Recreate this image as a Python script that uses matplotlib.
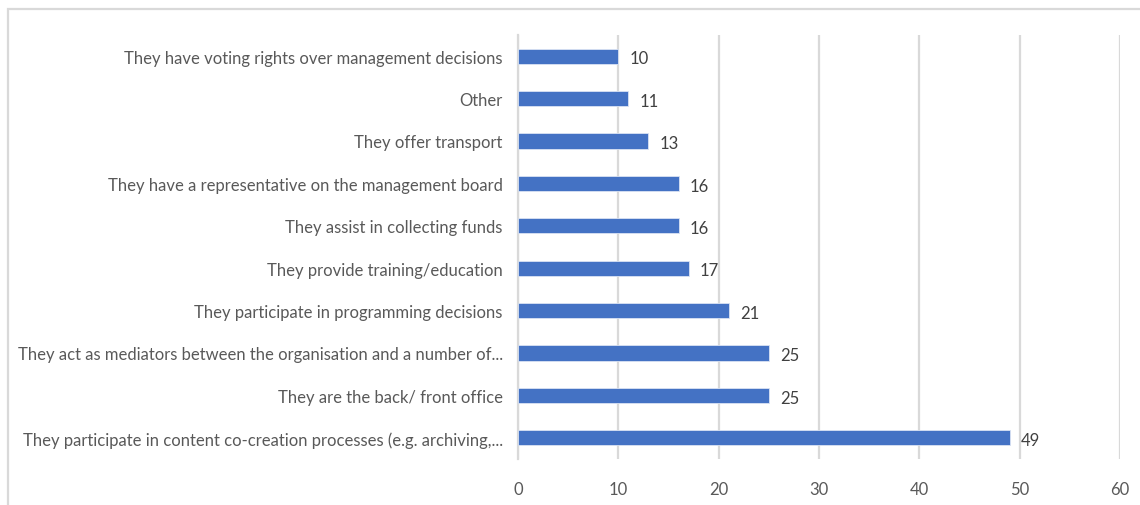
import matplotlib.pyplot as plt
from matplotlib.patches import Rectangle

plt.rcParams['font.family'] = ['Lato', 'DejaVu Sans']

labels = [
    'They participate in content co-creation processes (e.g. archiving,...',
    'They are the back/ front office',
    'They act as mediators between the organisation and a number of...',
    'They participate in programming decisions',
    'They provide training/education',
    'They assist in collecting funds',
    'They have a representative on the management board',
    'They offer transport',
    'Other',
    'They have voting rights over management decisions',
]
values = [49, 25, 25, 21, 17, 16, 16, 13, 11, 10]
xticks = [0, 10, 20, 30, 40, 50, 60]

text_color = '#595959'
grid_color = '#d9d9d9'
bar_color = '#4472c4'

fig = plt.figure(figsize=(11.4, 5.06), dpi=100)
ax = fig.add_axes([518 / 1140, 1 - 460 / 506, 602 / 1140, 424 / 506])

pos = range(len(values))
ax.barh(pos, values, height=0.36, color=bar_color, edgecolor='#dae3f3',
        linewidth=0.6, zorder=3)
for y, v in zip(pos, values):
    ax.text(v + 1.1, y - 0.05, str(v), va='center', ha='left', fontsize=12,
            color='#404040')

ax.set_xlim(0, 60)
ax.set_ylim(-0.5, 9.5)
ax.set_xticks(xticks)
ax.set_yticks(list(pos))
ax.set_yticklabels(labels)
ax.tick_params(axis='both', length=0, labelsize=12, colors=text_color)
ax.tick_params(axis='y', pad=11)
ax.tick_params(axis='x', pad=16)
ax.grid(axis='x', color=grid_color, linewidth=1.6, zorder=0)
for s in ['top', 'right', 'bottom']:
    ax.spines[s].set_visible(False)
ax.spines['left'].set_color(grid_color)
ax.spines['left'].set_linewidth(1.6)

# outer chart border
fig.patches.append(Rectangle((8 / 1140, -0.1), 1.2, 1.1 - 10 / 506,
                             transform=fig.transFigure, fill=False,
                             edgecolor=grid_color, linewidth=1.6))

fig.savefig('out.png', dpi=100)
